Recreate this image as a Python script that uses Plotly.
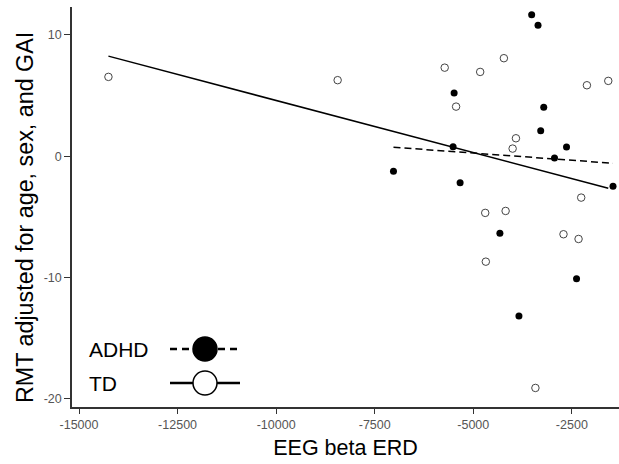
import plotly.graph_objects as go

# ADHD (filled) points
adhd_x = [-3519, -3358, -5486, -3213, -3290, -5512, -2635, -2940, -7024, -5334, -1456, -4325, -2381, -3842]
adhd_y = [11.67, 10.8, 5.22, 4.04, 2.11, 0.79, 0.77, -0.14, -1.24, -2.18, -2.47, -6.35, -10.09, -13.17]

# TD (open) points
td_x = [-14254, -8440, -5725, -4825, -4224, -2118, -1576, -5436, -3918, -4002, -2263, -4697, -4180, -2712, -2330, -4682, -3424]
td_y = [6.54, 6.27, 7.30, 6.95, 8.08, 5.85, 6.21, 4.09, 1.48, 0.63, -3.41, -4.67, -4.51, -6.43, -6.82, -8.69, -19.1]

# Fit line endpoints
adhd_fit_x = [-7024, -1456]
adhd_fit_y = [0.74, -0.58]
td_fit_x = [-14254, -1576]
td_fit_y = [8.25, -2.64]

x_ticks = [-15000, -12500, -10000, -7500, -5000, -2500]
y_ticks = [-20, -10, 0, 10]
legend_labels = ["ADHD", "TD"]
x_title = "EEG beta ERD"
y_title = "RMT adjusted for age, sex, and GAI"

FONT = "Liberation Sans, Arial, sans-serif"

fig = go.Figure()
fig.add_trace(go.Scatter(x=td_fit_x, y=td_fit_y, mode="lines",
                         line=dict(color="black", width=1.5), showlegend=False))
fig.add_trace(go.Scatter(x=adhd_fit_x, y=adhd_fit_y, mode="lines",
                         line=dict(color="black", width=1.5, dash="7px,4px"), showlegend=False))
fig.add_trace(go.Scatter(x=td_x, y=td_y, mode="markers",
                         marker=dict(symbol="circle-open", size=7.5, color="#444",
                                     line=dict(width=1, color="#444")),
                         showlegend=False))
fig.add_trace(go.Scatter(x=adhd_x, y=adhd_y, mode="markers",
                         marker=dict(symbol="circle", size=7, color="black"),
                         showlegend=False))

# Manual legend (bottom-left inside plot)
L, R, T, B = 72, 0, 7, 57
W, H = 619 - L - R, 464 - T - B
def px(xp):
    return (xp - L) / W
def py(yp):
    return (464 - B - yp) / H

rows = [(legend_labels[0], 349, "7px,5px", "black"), (legend_labels[1], 383, "solid", "white")]
shapes = []
annotations = []
for label, yc, dash, fill in rows:
    shapes.append(dict(type="line", xref="paper", yref="paper",
                       x0=px(170), x1=px(240), y0=py(yc), y1=py(yc),
                       line=dict(color="black", width=2.5, dash=dash)))
    shapes.append(dict(type="circle", xref="paper", yref="paper",
                       xsizemode="pixel", ysizemode="pixel",
                       xanchor=px(205), yanchor=py(yc),
                       x0=-12, x1=12, y0=-12, y1=12,
                       fillcolor=fill, line=dict(color="black", width=1.5)))
    annotations.append(dict(xref="paper", yref="paper", x=px(87), y=py(yc),
                            xanchor="left", yanchor="middle", text=label, showarrow=False,
                            font=dict(family=FONT, size=21, color="black")))

# y-axis title as rotated annotation
annotations.append(dict(xref="paper", yref="paper", x=px(25), y=py(218),
                        xanchor="center", yanchor="middle", textangle=-90,
                        text=y_title, showarrow=False,
                        font=dict(family=FONT, size=23.3, color="black")))

fig.update_layout(
    width=619, height=464,
    margin=dict(l=L, r=R, t=T, b=B),
    paper_bgcolor="white", plot_bgcolor="white",
    font=dict(family=FONT),
    shapes=shapes, annotations=annotations,
    showlegend=False,
)
fig.update_xaxes(
    range=[-15178, -1304], tickvals=x_ticks, ticktext=[str(v) for v in x_ticks],
    showgrid=False, zeroline=False, showline=True, linecolor="#333", linewidth=1.5,
    ticks="outside", ticklen=5, tickwidth=1.2, tickcolor="#333",
    tickfont=dict(family=FONT, size=12.5, color="#555"),
    title=dict(text=x_title, font=dict(family=FONT, size=21.5, color="black"), standoff=9),
)
fig.update_yaxes(
    range=[-20.67, 12.3], tickvals=y_ticks, ticktext=[str(v) for v in y_ticks],
    showgrid=False, zeroline=False, showline=True, linecolor="#333", linewidth=1.5,
    ticks="outside", ticklen=6, tickwidth=1.2, tickcolor="#333",
    tickfont=dict(family=FONT, size=12.5, color="#555"),
)

fig.write_html("out.html")
